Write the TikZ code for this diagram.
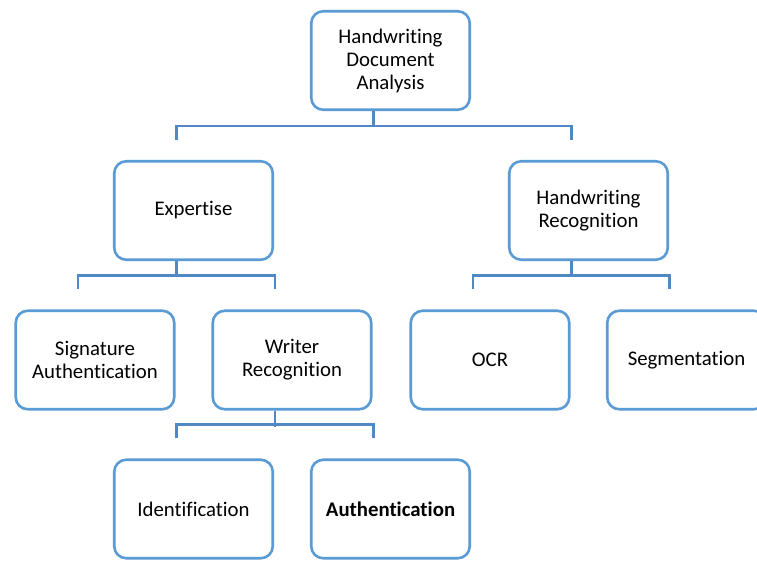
\documentclass[tikz,border=0pt]{standalone}
\usepackage{fontspec}
\setmainfont{Carlito}[RawFeature=-liga]
\usetikzlibrary{calc}
\definecolor{boxblue}{HTML}{5B9BD5}
\definecolor{linkblue}{HTML}{4F88C2}
\tikzset{
  box/.style={draw=boxblue, line width=2.6pt, rounded corners=12pt, fill=white,
    minimum width=158.5pt, minimum height=98.5pt, align=center, inner sep=2pt,
    font=\fontsize{20.8}{23}\selectfont},
  link/.style={draw=linkblue, line width=2.6pt}
}
\begin{document}
\begin{tikzpicture}[x=1pt,y=-1pt]
      \clip (0,0) rectangle (757,560);
      \fill[white] (0,0) rectangle (757,560);
      \node[box] (root) at (390.5,60.5) {Handwriting\\Document\\Analysis};
      \node[box] (exp) at (193.5,210.5) {Expertise};
      \node[box] (hwr) at (588.5,210.5) {Handwriting\\Recognition};
      \node[box] (sig) at (95,360) {Signature\\Authentication};
      \node[box] (wrec) at (292,360) {Writer\\Recognition};
      \node[box] (ocr) at (490,360) {OCR};
      \node[box] (seg) at (686.5,360) {Segmentation};
      \node[box] (ident) at (193.5,509) {Identification};
      \node[box] (auth) at (390.5,509) {\textbf{Authentication}};
      \begin{scope}[link]
        \draw ($(root.south)+(-17,0)$) -- ++(0,16);
        \draw ($(exp.north)+(-17,-20)$) -- ++(0,-14) -| ($(hwr.north)+(-17,-20)$);
        \draw ($(exp.south)+(-17,0)$) -- ++(0,16);
        \draw ($(sig.north)+(-17,-20)$) -- ++(0,-14) -| ($(wrec.north)+(-17,-20)$);
        \draw ($(hwr.south)+(-17,0)$) -- ++(0,16);
        \draw ($(ocr.north)+(-17,-20)$) -- ++(0,-14) -| ($(seg.north)+(-17,-20)$);
        \draw ($(wrec.south)+(-17,0)$) -- ++(0,16);
        \draw ($(ident.north)+(-17,-20)$) -- ++(0,-14) -| ($(auth.north)+(-17,-20)$);
      \end{scope}
    \end{tikzpicture}
\end{document}
